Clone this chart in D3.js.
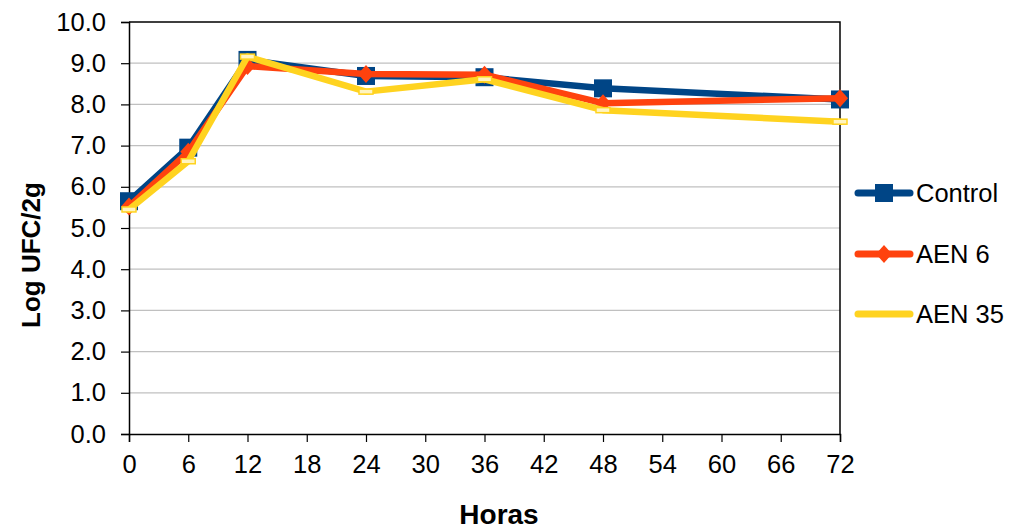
<!DOCTYPE html>
<html>
<head>
<meta charset="utf-8">
<script src="https://cdn.jsdelivr.net/npm/d3@7/dist/d3.min.js"></script>
<style>
  body { margin: 0; background: #fff; }
  text { font-family: "Liberation Sans", Arial, sans-serif; fill: #000; }
</style>
</head>
<body>
<div id="chart"></div>
<script>
// Data
const hours = [0, 6, 12, 24, 36, 48, 72];
const control = [5.65, 6.95, 9.08, 8.69, 8.66, 8.39, 8.12];
const aen6 = [5.52, 6.85, 8.93, 8.74, 8.72, 8.03, 8.15];
const aen35 = [5.45, 6.62, 9.16, 8.31, 8.61, 7.86, 7.58];
const seriesNames = ["Control", "AEN 6", "AEN 35"];
const xTicks = d3.range(0, 73, 6);
const yTicks = d3.range(0, 10.01, 1);

const width = 1011;
const height = 531;
const margin = { left: 129, right: 171, top: 22, bottom: 97 };

const svg = d3.select("#chart").append("svg")
    .attr("width", width)
    .attr("height", height);

const x = d3.scaleLinear().domain([0, 72]).range([margin.left, width - margin.right]);
const y = d3.scaleLinear().domain([0, 10]).range([height - margin.bottom, margin.top]);

// Gridlines
svg.append("g")
    .selectAll("line")
    .data(yTicks.slice(1, -1))
    .enter().append("line")
    .attr("x1", x(0)).attr("x2", x(72))
    .attr("y1", d => y(d)).attr("y2", d => y(d))
    .attr("stroke", "#c0c0c0")
    .attr("stroke-width", 1.2);

// Axes
const yAxis = svg.append("g")
    .attr("transform", `translate(${x(0)},0)`)
    .call(d3.axisLeft(y).tickValues(yTicks).tickFormat(d3.format(".1f")).tickSize(8).tickPadding(15));
const xAxis = svg.append("g")
    .attr("transform", `translate(0,${y(0)})`)
    .call(d3.axisBottom(x).tickValues(xTicks).tickSize(8).tickPadding(13));

[yAxis, xAxis].forEach(g => {
    g.select(".domain").attr("stroke", "#000").attr("stroke-width", 1.5);
    g.selectAll(".tick line").attr("stroke", "#000").attr("stroke-width", 1.2);
    g.selectAll(".tick text")
        .style("font-family", "'Liberation Sans', Arial, sans-serif")
        .style("font-size", "25.5px")
        .attr("fill", "#000");
});

// Frame top and right
svg.append("path")
    .attr("d", `M${x(0)},${y(10)}H${x(72)}V${y(0)}`)
    .attr("fill", "none")
    .attr("stroke", "#000")
    .attr("stroke-width", 1.5);

// Axis titles
svg.append("text")
    .attr("x", 499)
    .attr("y", 524)
    .attr("text-anchor", "middle")
    .style("font-size", "28px")
    .style("font-weight", "bold")
    .text("Horas");

svg.append("text")
    .attr("transform", `translate(40,255) rotate(-90)`)
    .attr("text-anchor", "middle")
    .style("font-size", "26px")
    .style("font-weight", "bold")
    .text("Log UFC/2g");

// Series
const colors = ["#004586", "#ff420e", "#ffd320"];
const allValues = [control, aen6, aen35];

const line = d3.line()
    .x((d, i) => x(hours[i]))
    .y(d => y(d));

function drawMarker(g, kind, color) {
    if (kind === 0) {
        g.append("rect").attr("x", -9).attr("y", -9).attr("width", 18).attr("height", 18)
            .attr("fill", color);
    } else if (kind === 1) {
        g.append("path").attr("d", "M0,-9L8,0L0,9L-8,0Z").attr("fill", color);
    } else {
        g.append("rect").attr("x", -7).attr("y", -2.5).attr("width", 14).attr("height", 5)
            .attr("fill", "#fff4c0").attr("stroke", color).attr("stroke-width", 1.5);
    }
}

allValues.forEach((vals, k) => {
    const g = svg.append("g");
    g.append("path")
        .datum(vals)
        .attr("d", line)
        .attr("fill", "none")
        .attr("stroke", colors[k])
        .attr("stroke-width", 6.5)
        .attr("stroke-linejoin", "round")
        .attr("stroke-linecap", "round");
    vals.forEach((v, i) => {
        drawMarker(g.append("g").attr("transform", `translate(${x(hours[i])},${y(v)})`), k, colors[k]);
    });
});

// Legend
const legendY = [193, 254, 314];
seriesNames.forEach((name, k) => {
    const g = svg.append("g").attr("transform", `translate(0,${legendY[k]})`);
    g.append("line")
        .attr("x1", 858).attr("x2", 910)
        .attr("stroke", colors[k])
        .attr("stroke-width", 7)
        .attr("stroke-linecap", "round");
    if (k < 2) drawMarker(g.append("g").attr("transform", "translate(884,0)"), k, colors[k]);
    g.append("text")
        .attr("x", 916)
        .attr("dy", "0.36em")
        .style("font-size", "25.5px")
        .text(name);
});
</script>
</body>
</html>
